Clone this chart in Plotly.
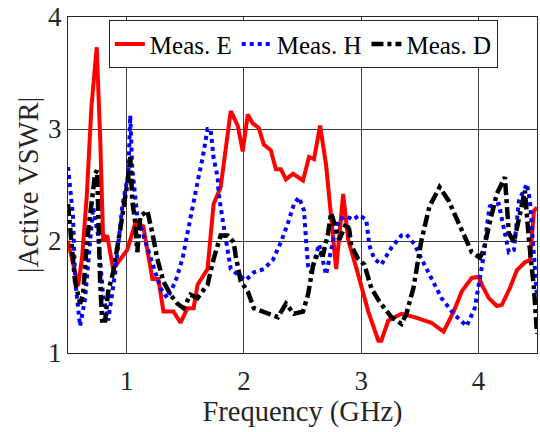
import plotly.graph_objects as go

# Meas. E (red)
e_x = [0.5, 0.586, 0.62, 0.66, 0.70, 0.745, 0.775, 0.80, 0.834, 0.885, 1.005, 1.074, 1.142,
       1.22, 1.271, 1.314, 1.40, 1.459, 1.519, 1.571, 1.605, 1.69, 1.742, 1.802, 1.888,
       1.948, 1.99, 2.033, 2.076, 2.127, 2.17, 2.23, 2.273, 2.316, 2.359, 2.419, 2.504,
       2.556, 2.598, 2.65, 2.701, 2.744, 2.787, 2.847, 2.89, 2.975, 3.061, 3.147, 3.172,
       3.232, 3.344, 3.455, 3.60, 3.703, 3.789, 3.858, 3.943, 4.003, 4.029, 4.089, 4.157,
       4.20, 4.269, 4.329, 4.397, 4.44, 4.474, 4.5]
e_y = [2.0, 1.6, 1.85, 2.4, 3.2, 3.73, 2.9, 2.0, 2.05, 1.75, 1.92, 2.16, 2.13,
       1.66, 1.66, 1.37, 1.37, 1.27, 1.4, 1.4, 1.61, 1.75, 2.33, 2.48, 3.16,
       3.03, 2.8, 3.13, 3.05, 3.01, 2.86, 2.81, 2.64, 2.64, 2.55, 2.6, 2.54,
       2.75, 2.73, 3.03, 2.68, 2.25, 1.75, 2.42, 2.01, 1.7, 1.37, 1.11, 1.11,
       1.29, 1.35, 1.32, 1.27, 1.19, 1.37, 1.55, 1.67, 1.68, 1.61, 1.49, 1.42,
       1.43, 1.58, 1.74, 1.81, 1.83, 2.27, 2.3]

# Meas. H (blue)
h_x = [0.5, 0.517, 0.543, 0.56, 0.603, 0.646, 0.688, 0.714, 0.757, 0.80, 0.843, 0.903,
       0.963, 1.014, 1.031, 1.048, 1.091, 1.16, 1.228, 1.288, 1.348, 1.417, 1.476, 1.528,
       1.571, 1.613, 1.648, 1.69, 1.716, 1.742, 1.776, 1.785, 1.828, 1.888, 1.948, 2.016,
       2.085, 2.17, 2.247, 2.316, 2.376, 2.427, 2.47, 2.513, 2.53, 2.547, 2.573, 2.641,
       2.701, 2.727, 2.77, 2.813, 2.873, 2.933, 2.984, 3.044, 3.07, 3.112, 3.172, 3.258,
       3.344, 3.386, 3.455, 3.515, 3.60, 3.686, 3.789, 3.90, 3.969, 4.012, 4.046, 4.072,
       4.097, 4.174, 4.217, 4.26, 4.303, 4.346, 4.414, 4.44, 4.474, 4.5]
h_y = [2.66, 2.48, 2.22, 1.66, 1.24, 1.49, 2.01, 2.3, 2.05, 1.5, 1.29, 1.72,
       2.31, 2.6, 3.12, 2.65, 2.22, 1.99, 1.78, 1.58, 1.49, 1.64, 1.84, 2.13,
       2.36, 2.57, 2.74, 3.0, 3.0, 2.74, 2.57, 2.42, 2.13, 1.75, 1.7, 1.65,
       1.72, 1.75, 1.83, 1.99, 2.16, 2.33, 2.39, 2.27, 2.01, 1.78, 1.72, 1.97,
       1.7, 1.84, 2.05, 2.19, 2.22, 2.19, 2.23, 2.19, 1.96, 1.84, 1.79, 1.94,
       2.05, 2.06, 1.97, 1.84, 1.66, 1.49, 1.35, 1.24, 1.4, 1.64, 1.87, 2.13,
       2.31, 2.33, 2.13, 1.9, 1.92, 2.36, 2.51, 2.36, 1.87, 1.5]

# Meas. D (black)
d_x = [0.5, 0.534, 0.56, 0.603, 0.628, 0.663, 0.706, 0.731, 0.748, 0.757, 0.774, 0.791,
       0.817, 0.843, 0.885, 0.945, 0.988, 1.014, 1.031, 1.048, 1.074, 1.091, 1.117, 1.177,
       1.22, 1.262, 1.314, 1.374, 1.434, 1.485, 1.545, 1.605, 1.69, 1.742, 1.802, 1.862,
       1.913, 1.93, 1.973, 2.033, 2.085, 2.162, 2.23, 2.29, 2.359, 2.427, 2.504, 2.547,
       2.59, 2.633, 2.676, 2.718, 2.744, 2.787, 2.813, 2.873, 2.899, 2.915, 2.975, 3.027,
       3.087, 3.155, 3.232, 3.258, 3.344, 3.386, 3.446, 3.515, 3.583, 3.669, 3.746, 3.832,
       3.883, 3.943, 4.012, 4.046, 4.089, 4.157, 4.226, 4.26, 4.303, 4.346, 4.397, 4.431,
       4.474, 4.5]
d_y = [2.33, 1.92, 1.64, 1.44, 1.52, 2.01, 2.36, 2.6, 2.63, 2.1, 1.64, 1.29,
       1.29, 1.55, 1.72, 2.1, 2.39, 2.57, 2.75, 2.36, 2.16, 1.9, 2.22, 2.27,
       2.07, 1.84, 1.64, 1.52, 1.44, 1.4, 1.52, 1.49, 1.61, 1.84, 2.05, 2.05,
       1.99, 1.87, 1.64, 1.55, 1.4, 1.37, 1.35, 1.32, 1.44, 1.35, 1.37, 1.52,
       1.78, 1.9, 1.88, 2.07, 2.25, 2.1, 2.01, 2.16, 2.1, 1.96, 1.84, 1.79,
       1.58, 1.46, 1.35, 1.32, 1.26, 1.35, 1.58, 2.01, 2.31, 2.48, 2.36, 2.16,
       2.05, 1.9, 1.85, 1.92, 2.13, 2.42, 2.57, 2.07, 1.99, 2.22, 2.45, 2.01,
       1.58, 1.17]

x_ticks = [1, 2, 3, 4]
y_ticks = [1, 2, 3, 4]

FONT = "Liberation Serif"
TXT = "#262626"

fig = go.Figure()
fig.add_trace(go.Scatter(x=e_x, y=e_y, mode="lines", name="Meas. E",
                         line=dict(color="#ff0000", width=4)))
fig.add_trace(go.Scatter(x=h_x, y=h_y, mode="lines", name="Meas. H",
                         line=dict(color="#0000ff", width=4, dash="dot")))
fig.add_trace(go.Scatter(x=d_x, y=d_y, mode="lines", name="Meas. D",
                         line=dict(color="#000000", width=4.5, dash="12px,4px,4px,4px")))

axis_common = dict(showgrid=True, gridcolor="#3c3c3c", gridwidth=1,
                   showline=True, linecolor="#262626", linewidth=1, mirror=True,
                   zeroline=False, ticks="", ticklabeloverflow="allow",
                   tickfont=dict(family=FONT, size=27, color=TXT))

fig.update_xaxes(range=[0.5, 4.5], tickvals=x_ticks, ticktext=[str(t) for t in x_ticks],
                 ticklabelstandoff=4,
                 title=dict(text="Frequency (GHz)", font=dict(family=FONT, size=28.5, color=TXT),
                            standoff=4),
                 **axis_common)
fig.update_yaxes(range=[1, 4], tickvals=y_ticks, ticktext=[str(t) for t in y_ticks],
                 title=dict(text="|Active VSWR|", font=dict(family=FONT, size=28.5, color=TXT),
                            standoff=1),
                 **axis_common)

fig.update_layout(
    width=540, height=432,
    margin=dict(l=68, r=2, t=9, b=79),
    paper_bgcolor="white", plot_bgcolor="white",
    font=dict(family=FONT, color=TXT),
    legend=dict(orientation="h", x=0.087, y=0.99, xanchor="left", yanchor="top",
                bgcolor="white", bordercolor="#262626", borderwidth=1,
                font=dict(family=FONT, size=25, color="#000000"),
                itemwidth=30, tracegroupgap=0),
)

fig.write_html("out.html")
